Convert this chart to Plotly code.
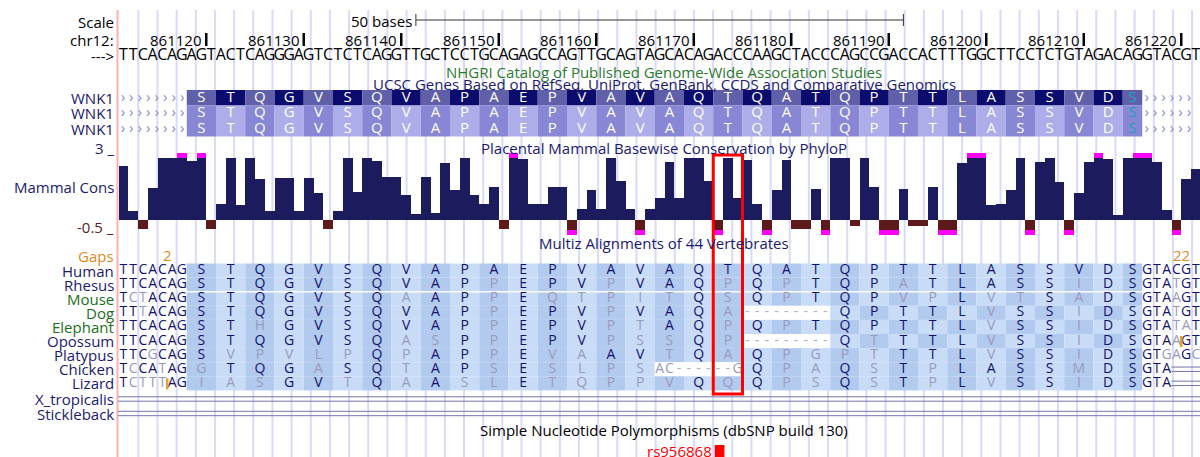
import plotly.graph_objects as go

# ---------------- data ----------------
START = 861111
SEQ = "TTCACAGAGTACTCAGGGAGTCTCTCAGGTTGCTCCTGCAGAGCCAGTTGCAGTAGCACAGACCCAAGCTACCCAGCCGACCACTTTGGCTTCCTCTGTAGACAGGTACGT"
RULER_TICKS = [861120, 861130, 861140, 861150, 861160, 861170, 861180, 861190, 861200, 861210, 861220]
SCALE_BASES = 50
EXON_START = 7
PROTEIN = "STQGVSQVAPAEPVAVAQTQATQPTTLASSVD"
PARTIAL_AA = "S"
GENE_ROWS = ["WNK1", "WNK1", "WNK1"]

CONS = [2.6, 0.45, -0.45, 1.55, 3.0, 3.0, 3.4, 2.85, 3.4, -0.45,
        0.8, 3.0, 0.73, 3.0, 1.97, 0.45, 2.05, 2.05, 0.45, 2.05,
        1.3, -0.45, 0.45, 3.0, 1.37, 3.0, 2.85, 2.1, 2.1, 1.2,
        0.3, 2.1, 0.35, 2.75, 1.45, 3.0, 1.2, 0.8, 1.6, -0.45,
        3.4, 2.95, 0.8, 0.8, 1.6, 1.6, -0.8, 0.55, 1.45, 0.55,
        3.0, 1.9, 0.55, -0.8, 0.55, 1.05, 2.8, 1.05, 3.0, 3.0,
        1.9, -0.8, 3.0, 1.05, 2.9, 0.8, -0.8, 1.45, 2.9, -0.45,
        -0.45, 1.5, -0.8, 3.0, 3.0, -0.3, 3.0, 1.6, -0.8, -0.8,
        1.5, -0.3, -0.3, 1.6, -0.8, -0.8, 2.75, 3.4, 3.4, 0.73,
        0.8, 1.45, 3.0, -0.8, 2.8, 3.0, 1.85, -0.8, 1.3, 2.8,
        3.4, 2.95, 0.25, 3.0, 3.4, 3.4, 2.8, 0.5, -0.8, 2.0, 2.5]
CONS_MIN, CONS_MAX = -0.5, 3.0

SPECIES = ["Human", "Rhesus", "Mouse", "Dog", "Elephant", "Opossum", "Platypus", "Chicken", "Lizard"]
LEAD = ["TTCACAG", "TTCACAG", "TCTACAG", "TTTACAG", "TTCACAG", "TTCACAG", "TTCGCAG", "TCCATAG", "TCTTTAG"]
CODONS = [
    "STQGVSQ" + "VAPAEPVAVAQTQA" + "TQPTTLASSVD",
    "STQGVSQ" + "VAPPEPVPVAQPQP" + "TQPATLASSID",
    "STQGVSQ" + "AAPPEQTPITQSQP" + "TQPVPLVTSAD",
    "STQGVSQ" + "VAPPEPVPVAQA--" + "-QPTTLVSSID",
    "STHGVSQ" + "VAPPEPVPTAQPQP" + "TQPTTLVSSID",
    "STQGVSQ" + "ASPPEPVPSSQP--" + "-QTTTLVSSID",
    "SVPVLPQ" + "PAPPEVAAVTQAQP" + "GPTTTLVSSID",
    "GTQGASQ" + "TAPSESLPS***QP" + "AQSTPLASSMD",
    "IASGVTQ" + "AASLETQPPVQQQP" + "SQSTPLVSSID",
]
TAIL = ["SGTACGT", "SGTATGT", "SGTAAGT", "SGTATGT", "SGTATAT", "SGTAAGT", "SGTGAGC", "SGTA===", "SGTA==="]
NT_SEGMENTS = {"Chicken": (16, "AC------G")}
GAP_COUNTS = [(5, "2"), (109, "22")]
INSERT_MARKS = [("Lizard", 5), ("Opossum", 109)]
UNALIGNED = ["X_tropicalis", "Stickleback"]
GREEN_SPECIES = ["Mouse", "Dog", "Elephant"]
SNP_NAME = "rs956868"
SNP_INDEX = 61
HIGHLIGHT_CODON = 18

# ---------------- layout constants ----------------
W, H = 1200, 457
A_PX, B_PX = 118.5, 9.75
FONT = "Open Sans"
NAVY = "#1a1a6e"
ALN_NAVY = "#12126a"
MISMATCH = "#9a9abb"
GUIDE_COLOR = "#d9d9fb"


def px2g(px):
    return START + (px - A_PX) / B_PX


X0, X1 = px2g(0), px2g(W)
LABEL_X = 116 / W

Y_SCALE, Y_RULER, Y_SEQ = 21, 40, 56
GENE_BOUNDS = [(90, 105.5), (105.5, 121), (121, 136.5)]
ALN_TOP, ALN_STEP = 263.5, 14.1
CONS_PX_TOP, CONS_PX_BOT = 153.05, 235.45   # value 3.25 .. -0.75
UNALN_Y = [399, 413.5]

fig = go.Figure()
shapes = []
ann = []


def text_trace(xs, ys, texts, color, size, yaxis="y"):
    fig.add_trace(go.Scatter(x=xs, y=ys, text=texts, mode="text", textposition="middle center",
                             textfont=dict(family=FONT, size=size, color=color),
                             hoverinfo="skip", showlegend=False, cliponaxis=False, yaxis=yaxis))


def label(text, y, color="black", size=15, x=LABEL_X, xanchor="right", xref="paper"):
    ann.append(dict(text=text, x=x, y=y, xref=xref, yref="y", xanchor=xanchor, yanchor="middle",
                    showarrow=False, font=dict(family=FONT, size=size, color=color)))


def hline(x0, x1, y, color, width):
    shapes.append(dict(type="line", xref="x", yref="y", x0=x0, x1=x1, y0=y, y1=y,
                       line=dict(color=color, width=width), layer="below"))


# guidelines
gp = 138.3
while gp < W:
    g = px2g(gp)
    shapes.append(dict(type="line", xref="x", yref="y", x0=g, x1=g, y0=10, y1=H,
                       line=dict(color=GUIDE_COLOR, width=2), layer="below"))
    gp += 19.16
shapes.append(dict(type="line", xref="x", yref="y", x0=px2g(117.5), x1=px2g(117.5), y0=10, y1=H,
                   line=dict(color="#ffb0b0", width=2), layer="below"))

# scale bar
n = len(SEQ)
mid = START + n / 2
sb0, sb1 = mid - SCALE_BASES / 2, mid + SCALE_BASES / 2
hline(sb0, sb1, Y_SCALE - 1, "#333333", 1)
for xg in (sb0, sb1):
    shapes.append(dict(type="line", xref="x", yref="y", x0=xg, x1=xg, y0=Y_SCALE - 7, y1=Y_SCALE + 5,
                       line=dict(color="#333333", width=1), layer="below"))
ann.append(dict(text=f"{SCALE_BASES} bases", x=sb0, y=Y_SCALE, xref="x", yref="y", xanchor="right",
                xshift=-2, yanchor="middle", showarrow=False, font=dict(family=FONT, size=15, color="black")))
label("Scale", Y_SCALE + 1)
label("chr12:", Y_RULER)
label("--->", Y_SEQ)

# ruler
for t in RULER_TICKS:
    shapes.append(dict(type="line", xref="x", yref="y", x0=t, x1=t, y0=33, y1=46,
                       line=dict(color="black", width=2.5), layer="below"))
    ann.append(dict(text=str(t), x=t, y=Y_RULER, xref="x", yref="y", xanchor="right", xshift=-3,
                    yanchor="middle", showarrow=False, font=dict(family=FONT, size=15, color="black")))

# sequence
text_trace([START + i + 0.5 for i in range(n)], [Y_SEQ] * n, list(SEQ), "black", 16)

# track titles
TITLE_X = px2g(664)
for txt, y, col in [("NHGRI Catalog of Published Genome-Wide Association Studies", 72, "#2b7a2b"),
                    ("UCSC Genes Based on RefSeq, UniProt, GenBank, CCDS and Comparative Genomics", 84, NAVY),
                    ("Placental Mammal Basewise Conservation by PhyloP", 148, NAVY),
                    ("Multiz Alignments of 44 Vertebrates", 243, NAVY),
                    ("Simple Nucleotide Polymorphisms (dbSNP build 130)", 430, "black")]:
    ann.append(dict(text=txt, x=TITLE_X, y=y, xref="x", yref="y", xanchor="center", yanchor="middle",
                    showarrow=False, font=dict(family=FONT, size=15, color=col)))

# gene rows
n_codons = len(PROTEIN) + 1
exon_end = EXON_START + 3 * len(PROTEIN) + 2
ROW1 = ("#6060aa", "#0c0c6e")
ROW23 = ("#8787d6", "#adadea")
for r, (y0, y1) in enumerate(GENE_BOUNDS):
    cols = ROW1 if r == 0 else ROW23
    for k in range(n_codons):
        x0 = START + EXON_START + 3 * k
        x1 = min(x0 + 3, START + exon_end)
        shapes.append(dict(type="rect", xref="x", yref="y", x0=x0, x1=x1, y0=y0, y1=y1,
                           fillcolor=cols[k % 2], line=dict(width=0), layer="below"))
    yc = (y0 + y1) / 2
    xs = [START + EXON_START + 3 * k + 1.5 for k in range(len(PROTEIN))]
    text_trace(xs, [yc] * len(xs), list(PROTEIN), "white", 15)
    text_trace([START + exon_end - 1], [yc], [PARTIAL_AA], "#1fa3b3", 15)
    chev = []
    c = 0.45
    while c < EXON_START - 0.2:
        chev.append(START + c)
        c += 0.87
    c = exon_end + 0.45
    while c < n - 0.4:
        chev.append(START + c)
        c += 0.87
    text_trace(chev, [yc] * len(chev), ["›"] * len(chev), "#8c8cc8", 15)
    label(GENE_ROWS[r], yc, NAVY)

# conservation
xs = [START + i + 0.5 for i in range(n)]
clipped = [min(max(v, CONS_MIN), CONS_MAX) for v in CONS]
fig.add_trace(go.Bar(x=xs, y=clipped, base=0, width=1.0, yaxis="y2",
                     marker=dict(color=["#1b1b5e" if v >= 0 else "#5e1a1a" for v in CONS], line=dict(width=0)),
                     hoverinfo="skip", showlegend=False))
over = [(x, 0.25 if v > CONS_MAX else -0.25) for x, v in zip(xs, CONS) if v > CONS_MAX or v < CONS_MIN]
fig.add_trace(go.Bar(x=[o[0] for o in over], y=[o[1] for o in over],
                     base=[CONS_MAX if o[1] > 0 else CONS_MIN for o in over], width=1.0, yaxis="y2",
                     marker=dict(color="#ff00ff", line=dict(width=0)), hoverinfo="skip", showlegend=False))
label("3 _", 148, NAVY)
label("Mammal Cons", 187, NAVY)
label("-0.5 _", 227, "#5a1e1e")

# gaps
label("Gaps", 256, "#e08a1a")
for b, t in GAP_COUNTS:
    ann.append(dict(text=t, x=START + b, y=255, xref="x", yref="y", xanchor="center", yanchor="middle",
                    showarrow=False, font=dict(family=FONT, size=15, color="#e08a1a")))

# alignment
ALN_BLUE = ("#b2caee", "#c8dcf8")
for s, name in enumerate(SPECIES):
    y0 = ALN_TOP + s * ALN_STEP
    y1 = y0 + ALN_STEP
    yc = (y0 + y1) / 2
    label(name, yc, "#1b6e1b" if name in GREEN_SPECIES else NAVY)
    row = CODONS[s]
    seg = NT_SEGMENTS.get(name)
    frame = 0          # codons of this species seen so far (sets the alternating colour)
    star_done = False
    for k in range(n_codons):
        x0 = START + EXON_START + 3 * k
        x1 = min(x0 + 3, START + exon_end)
        aa = row[k] if k < len(row) else TAIL[s][0]
        if aa == "-":
            fill = "white"
        elif aa == "*":
            fill = "white"
            if not star_done and seg:
                frame += sum(1 for ch in seg[1] if ch != "-") // 3
                star_done = True
        else:
            fill = ALN_BLUE[frame % 2]
            frame += 1
        shapes.append(dict(type="rect", xref="x", yref="y", x0=x0, x1=x1, y0=y0, y1=y1,
                           fillcolor=fill, line=dict(width=0), layer="below"))
    tx, tt, tc = [], [], []
    for i, ch in enumerate(LEAD[s]):
        tx.append(START + i + 0.5); tt.append(ch)
        tc.append(ALN_NAVY if ch == LEAD[0][i] else MISMATCH)
    for k, aa in enumerate(row):
        x0 = START + EXON_START + 3 * k
        if aa == "-":
            for j in range(3):
                tx.append(x0 + j + 0.5); tt.append("-"); tc.append("#b0b0c8")
        elif aa == "*":
            continue
        else:
            tx.append(x0 + 1.5); tt.append(aa)
            tc.append(ALN_NAVY if aa == CODONS[0][k] else MISMATCH)
    if seg:
        k0, nts = seg
        for j, ch in enumerate(nts):
            tx.append(START + EXON_START + 3 * k0 + j + 0.5); tt.append(ch)
            tc.append("#b0b0c8" if ch == "-" else MISMATCH)
    tail = TAIL[s]
    tx.append(START + exon_end - 1); tt.append(tail[0]); tc.append(ALN_NAVY)
    eq = [j for j, ch in enumerate(tail[1:]) if ch == "="]
    for j, ch in enumerate(tail[1:]):
        if ch == "=":
            continue
        tx.append(START + exon_end + j + 0.5); tt.append(ch)
        tc.append(ALN_NAVY if ch == TAIL[0][1 + j] else MISMATCH)
    if eq:
        xa, xb = START + exon_end + eq[0], START + n + 1
        hline(xa, xb, yc - 2.2, "#7474ac", 1)
        hline(xa, xb, yc + 2.2, "#7474ac", 1)
    for col in (ALN_NAVY, MISMATCH, "#b0b0c8"):
        sel = [i for i, c in enumerate(tc) if c == col]
        if sel:
            text_trace([tx[i] for i in sel], [yc] * len(sel), [tt[i] for i in sel], col, 14)

# white separator between primates and others
hline(START + EXON_START, START + exon_end, ALN_TOP + 2 * ALN_STEP, "white", 1.5)

# insertion marks
for name, b in INSERT_MARKS:
    s = SPECIES.index(name)
    y0 = ALN_TOP + s * ALN_STEP
    shapes.append(dict(type="line", xref="x", yref="y", x0=START + b, x1=START + b, y0=y0 + 2, y1=y0 + ALN_STEP - 1,
                       line=dict(color="#f0a020", width=2.5), layer="above"))

# unaligned species
for name, yc in zip(UNALIGNED, UNALN_Y):
    label(name, yc, NAVY)
    hline(START - 0.05, START + n + 1, yc - 2.2, "#7474ac", 1)
    hline(START - 0.05, START + n + 1, yc + 2.2, "#7474ac", 1)

# SNP
shapes.append(dict(type="rect", xref="x", yref="y", x0=START + SNP_INDEX + 0.15, x1=START + SNP_INDEX + 1.15,
                   y0=445, y1=458, fillcolor="red", line=dict(width=0), layer="above"))
ann.append(dict(text=SNP_NAME, x=START + SNP_INDEX + 0.15, y=451, xref="x", yref="y", xanchor="right", xshift=-1,
                yanchor="middle", showarrow=False, font=dict(family=FONT, size=15, color="red")))

# highlight box
hc = START + EXON_START + 3 * HIGHLIGHT_CODON
shapes.append(dict(type="rect", xref="x", yref="y", x0=hc, x1=hc + 3, y0=155, y1=394,
                   line=dict(color="#ff0000", width=3), fillcolor="rgba(0,0,0,0)", layer="above"))

d0 = 1 - CONS_PX_BOT / H
d1 = 1 - CONS_PX_TOP / H
fig.update_layout(
    width=W, height=H, margin=dict(l=0, r=0, t=0, b=0),
    paper_bgcolor="white", plot_bgcolor="rgba(0,0,0,0)",
    xaxis=dict(range=[X0, X1], visible=False, fixedrange=True),
    yaxis=dict(range=[H, 0], domain=[0, 1], visible=False, fixedrange=True),
    yaxis2=dict(range=[-0.75, 3.25], domain=[d0, d1], anchor="x", visible=False, fixedrange=True),
    shapes=shapes, annotations=ann, bargap=0, barmode="overlay", showlegend=False,
)
fig.write_html("out.html", config={"displayModeBar": False, "staticPlot": True},
               post_script="document.body.style.margin='0';document.body.style.overflow='hidden';")
